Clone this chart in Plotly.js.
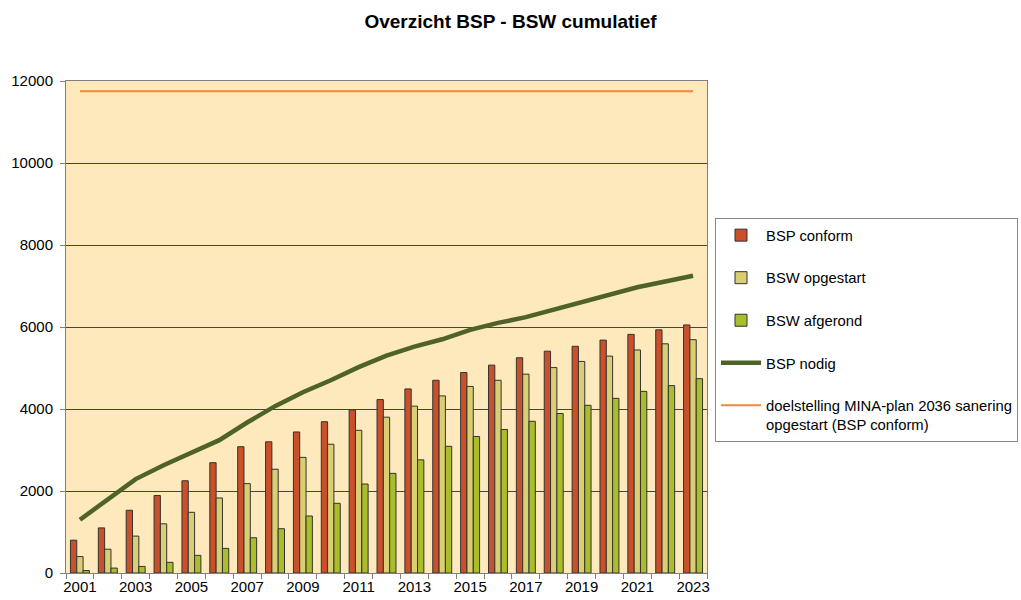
<!DOCTYPE html>
<html>
<head>
<meta charset="utf-8">
<script src="https://cdn.plot.ly/plotly-3.0.1.min.js"></script>
<style>html,body{margin:0;padding:0;background:#fff;}#chart{width:1021px;height:600px;}</style>
</head>
<body>
<div id="chart"></div>
<script>
const years = [2001,2002,2003,2004,2005,2006,2007,2008,2009,2010,2011,2012,2013,2014,2015,2016,2017,2018,2019,2020,2021,2022,2023];
const tickYears = [2001,2003,2005,2007,2009,2011,2013,2015,2017,2019,2021,2023];
const tickLabels = ['2001','2003','2005','2007','2009','2011','2013','2015','2017','2019','2021','2023'];
const bspConform = [800,1100,1530,1890,2250,2690,3080,3200,3440,3690,3980,4230,4490,4700,4890,5070,5250,5410,5530,5680,5820,5930,6050];
const bswOpgestart = [400,580,900,1200,1480,1830,2180,2530,2820,3140,3480,3800,4070,4320,4550,4700,4850,5010,5160,5290,5440,5590,5690];
const bswAfgerond = [60,120,160,260,430,600,860,1080,1390,1700,2170,2430,2760,3090,3330,3500,3700,3890,4090,4260,4430,4570,4740];
const bspNodig = [1300,1800,2290,2630,2950,3240,3670,4070,4410,4700,5020,5300,5520,5700,5930,6100,6240,6420,6610,6800,6970,7110,7250];
const doelstelling = [11750,11750,11750,11750,11750,11750,11750,11750,11750,11750,11750,11750,11750,11750,11750,11750,11750,11750,11750,11750,11750,11750,11750];
const yTicks = [0,2000,4000,6000,8000,10000,12000];
const yTickLabels = ['0','2000','4000','6000','8000','10000','12000'];
const names = ['BSP conform','BSW opgestart','BSW afgerond','BSP nodig','doelstelling MINA-plan 2036 sanering<br>opgestart (BSP conform)'];

const outline = {color:'#333333', width:1};
const traces = [
  {type:'bar', x:years, y:bspConform, name:names[0], legendgroup:'a', marker:{color:'#C9502A', line:outline}},
  {type:'bar', x:years, y:bswOpgestart, name:names[1], legendgroup:'b', marker:{color:'#D9CF72', line:outline}},
  {type:'bar', x:years, y:bswAfgerond, name:names[2], legendgroup:'c', marker:{color:'#AABD2B', line:outline}},
  {type:'scatter', mode:'lines', x:years, y:bspNodig, name:names[3], legendgroup:'d', line:{color:'#4F6228', width:4.5}},
  {type:'scatter', mode:'lines', x:years, y:doelstelling, name:names[4], legendgroup:'e', line:{color:'#F58634', width:2}}
];

const layout = {
  width:1021, height:600,
  paper_bgcolor:'#ffffff', plot_bgcolor:'#FDE9BB',
  font:{family:'"Liberation Sans", Arial, sans-serif', size:15, color:'#000'},
  title:{text:'<b>Overzicht BSP - BSW cumulatief</b>', x:0.5, xref:'container', xanchor:'center', y:0.965, yanchor:'middle', font:{size:19}},
  margin:{l:66, r:314, t:81, b:27, autoexpand:false},
  barmode:'group', bargap:0.32, bargroupgap:0,
  showlegend:true,
  legend:{x:1.0125, xanchor:'left', y:0.7215, yanchor:'top', bgcolor:'#ffffff', bordercolor:'#888888', borderwidth:1,
          font:{size:14.8}, tracegroupgap:20.3, valign:'top', traceorder:'grouped', itemwidth:40},
  xaxis:{type:'linear', range:[2000.5,2023.5], tickmode:'array', tickvals:tickYears, ticktext:tickLabels,
         ticks:'', showgrid:false, zeroline:false, showline:true, linecolor:'#808080', linewidth:1, mirror:true,
         minor:{tickmode:'linear', tick0:2000.5, dtick:1, ticks:'outside', ticklen:5, tickcolor:'#808080', tickwidth:1, showgrid:false},
         tickfont:{size:15}},
  yaxis:{range:[0,12000], tickmode:'array', tickvals:yTicks, ticktext:yTickLabels, ticks:'outside', ticklen:5, tickcolor:'#808080',
         showgrid:true, gridcolor:'#444444', gridwidth:1, zeroline:false, showline:true, linecolor:'#808080', linewidth:1, mirror:true,
         tickfont:{size:15}, ticklabelstandoff:4}
};

Plotly.newPlot('chart', traces, layout, {displayModeBar:false, staticPlot:true});
</script>
</body>
</html>
